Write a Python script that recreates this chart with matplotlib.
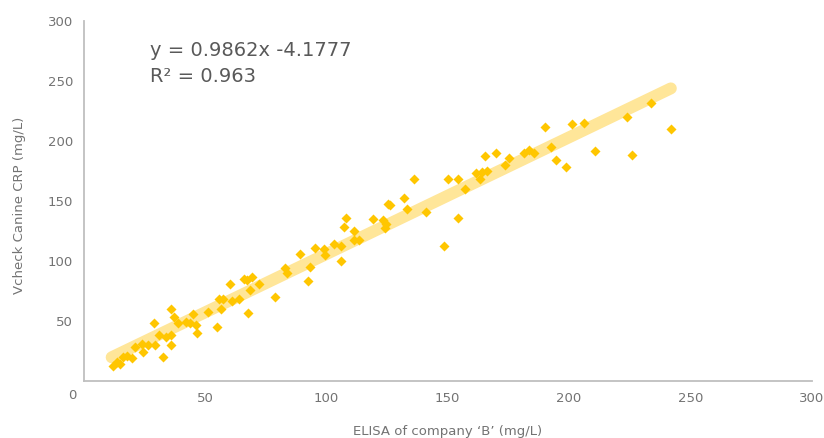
import matplotlib
matplotlib.use('Agg')
import matplotlib.pyplot as plt
import numpy as np

# valori
elisa_b = [12.1, 13.5, 14.9, 16.2, 17.6, 19.7, 21.1, 23.8, 24.5, 26.3,
           29.3, 29.0, 31.0, 32.7, 33.7, 35.9, 35.9, 35.9, 37.3, 38.9,
           42.0, 43.8, 45.1, 46.1, 46.5, 51.3, 55.0, 55.5, 57.3, 56.4,
           60.0, 61.2, 64.1, 65.8, 67.4, 69.2, 68.3, 67.6, 72.3, 78.9,
           83.0, 83.9, 89.2, 93.3, 92.2, 95.1, 99.1, 99.5, 103.2, 106.1,
           106.1, 107.1, 108.2, 111.2, 111.5, 113.3, 119.2, 123.3, 124.7, 124.3,
           125.2, 126.1, 132.1, 133.2, 136.2, 141.2, 148.4, 150.1, 154.2, 154.1,
           157.3, 161.8, 163.2, 164.2, 166.3, 165.3, 170.1, 173.8, 175.2, 181.4,
           183.4, 185.5, 189.9, 192.4, 194.5, 198.6, 201.4, 206.2, 210.6, 224.1,
           226.1, 234.0, 242.0]
vcheck = [12.2, 15.8, 13.8, 19.9, 20.5, 18.6, 27.8, 30.5, 24.1, 29.7,
          29.7, 48.3, 38.0, 19.9, 36.6, 38.0, 29.7, 59.4, 53.3, 48.3,
          49.1, 47.7, 55.5, 46.3, 39.4, 57.4, 44.9, 68.5, 68.5, 59.7,
          80.2, 66.6, 67.7, 84.4, 83.8, 86.6, 75.5, 56.6, 80.2, 69.9,
          93.6, 89.9, 105.5, 94.9, 83.3, 110.2, 109.4, 104.7, 113.8, 112.2,
          99.9, 127.7, 135.2, 124.9, 117.2, 117.2, 134.4, 133.8, 130.5, 126.9,
          147.2, 146.3, 151.9, 142.7, 167.7, 140.8, 112.4, 167.7, 167.7, 135.2,
          159.7, 173.3, 167.7, 174.1, 174.9, 187.2, 189.9, 179.7, 185.2, 189.9,
          192.2, 189.9, 211.1, 194.9, 183.8, 178.3, 213.8, 214.9, 191.6, 219.9,
          188.0, 231.6, 209.7]

# linia trendu (tak jak narysowana na obrazku)
trend_x = [11.4, 242.0]
trend_y = [19.5, 243.6]

ticks = [50, 100, 150, 200, 250, 300]
equation = 'y = 0.9862x -4.1777'
r2_text = 'R² = 0.963'
x_label = 'ELISA of company ‘B’ (mg/L)'
y_label = 'Vcheck Canine CRP (mg/L)'

plt.rcParams['font.family'] = ['DejaVu Sans']
gray = '#737373'

fig = plt.figure(figsize=(8.24, 4.38), dpi=100)
ax = fig.add_axes([84 / 824, 1 - 380.7 / 438, 727.5 / 824, 360 / 438])

ax.plot(trend_x, trend_y, color='#FFE699', lw=8.6, solid_capstyle='round', zorder=1)
ax.scatter(elisa_b, vcheck, marker='D', s=26, color='#FFC600', linewidths=0, zorder=2)

ax.set_xlim(0, 300)
ax.set_ylim(0, 300)
ax.set_xticks(ticks)
ax.set_yticks(ticks)
ax.tick_params(length=0, labelsize=9.5, labelcolor=gray, pad=8)
for s in ['top', 'right']:
    ax.spines[s].set_visible(False)
for s in ['left', 'bottom']:
    ax.spines[s].set_color('#BFBFBF')
    ax.spines[s].set_linewidth(1.3)

ax.annotate('0', xy=(0, 0), xytext=(-8.5, -10.5), textcoords='offset points',
            ha='center', va='center', fontsize=9.5, color=gray)

fig.text(448 / 824, 1 - 431 / 438, x_label, ha='center', va='center', fontsize=9.5, color=gray)
fig.text(20 / 824, 1 - 205 / 438, y_label, ha='center', va='center', rotation=90,
         fontsize=9.5, color=gray)

fig.text(150 / 824, 1 - 50 / 438, equation, ha='left', va='center', fontsize=14, color='#595959')
fig.text(150 / 824, 1 - 76 / 438, r2_text, ha='left', va='center', fontsize=14, color='#595959')

fig.savefig('out.png', dpi=100)
